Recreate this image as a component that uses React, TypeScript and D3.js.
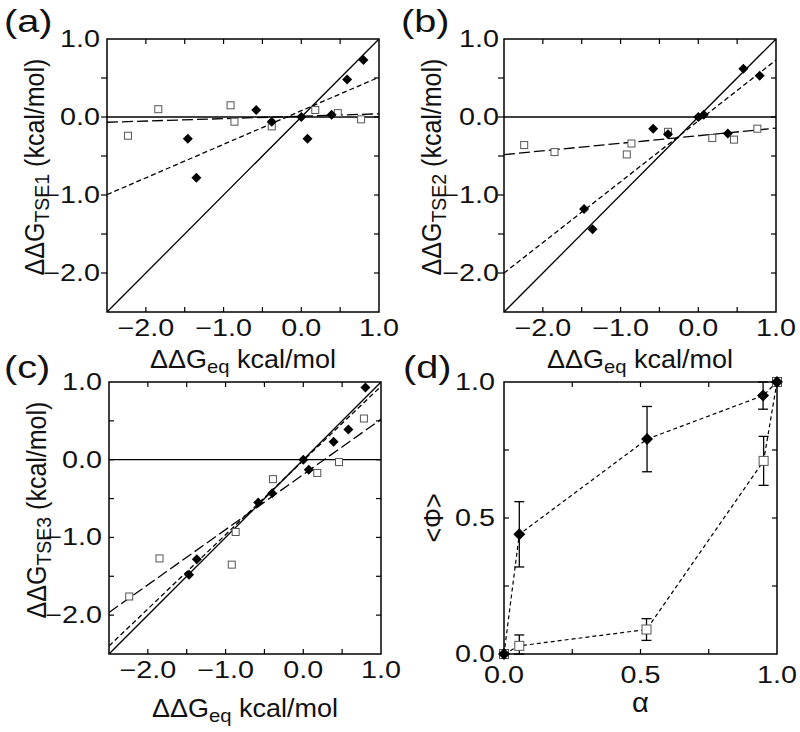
import React from 'react';
import * as d3 from 'd3';

// ---------- data ----------
const ddgDomain: [number, number] = [-2.5, 1.0];
const ddgLabelTicks = [-2.0, -1.0, 0.0, 1.0];
const ddgAllTicks = [-2.0, -1.5, -1.0, -0.5, 0.0, 0.5];

const alphaLabelTicks = [0.0, 0.5, 1.0];
const alphaAllTicks = [0.25, 0.5, 0.75];
const phiLabelTicks = [0.0, 0.5, 1.0];
const phiAllTicks = [0.25, 0.5, 0.75];

// Panel (a): TSE1
const aFilled: [number, number][] = [
  [-1.46, -0.28], [-1.35, -0.78], [-0.58, 0.09], [-0.38, -0.06], [0.0, 0.0],
  [0.08, -0.28], [0.39, 0.03], [0.59, 0.48], [0.80, 0.73],
];
const aOpen: [number, number][] = [
  [-2.23, -0.24], [-1.84, 0.10], [-0.91, 0.15], [-0.86, -0.06], [-0.38, -0.12],
  [0.18, 0.09], [0.47, 0.05], [0.77, -0.03],
];
// fits: [slope, intercept]
const aFitFilled: [number, number] = [0.43, 0.08];
const aFitOpen: [number, number] = [0.031, 0.01];

// Panel (b): TSE2
const bFilled: [number, number][] = [
  [-1.47, -1.18], [-1.36, -1.44], [-0.58, -0.15], [-0.39, -0.22], [0.0, 0.0],
  [0.07, 0.03], [0.38, -0.21], [0.58, 0.62], [0.79, 0.53],
];
const bOpen: [number, number][] = [
  [-2.24, -0.36], [-1.85, -0.45], [-0.92, -0.48], [-0.86, -0.34], [-0.39, -0.19],
  [0.18, -0.27], [0.46, -0.29], [0.76, -0.15],
];
const bFitFilled: [number, number] = [0.78, -0.05];
const bFitOpen: [number, number] = [0.097, -0.24];

// Panel (c): TSE3
const cFilled: [number, number][] = [
  [-1.47, -1.48], [-1.37, -1.28], [-0.58, -0.55], [-0.40, -0.43], [0.0, 0.0],
  [0.07, -0.13], [0.39, 0.23], [0.58, 0.39], [0.80, 0.93],
];
const cOpen: [number, number][] = [
  [-2.24, -1.76], [-1.85, -1.27], [-0.92, -1.35], [-0.87, -0.93], [-0.39, -0.25],
  [0.18, -0.17], [0.46, -0.03], [0.78, 0.53],
];
const cFitFilled: [number, number] = [0.955, -0.01];
const cFitOpen: [number, number] = [0.71, -0.19];

// Panel (d): <phi> vs alpha  [alpha, phi, error]
const dFilled: [number, number, number][] = [
  [0.0, 0.0, 0], [0.056, 0.44, 0.12], [0.524, 0.79, 0.12], [0.949, 0.95, 0.05], [1.0, 1.0, 0],
];
const dOpen: [number, number, number][] = [
  [0.0, 0.0, 0], [0.056, 0.03, 0.04], [0.522, 0.09, 0.04], [0.951, 0.71, 0.09], [1.0, 1.0, 0],
];

// ---------- styling ----------
const FONT = "'Liberation Sans', Arial, Helvetica, sans-serif";
const TICK_FS = 23;
const TICK_SX = 1.25;
const LABEL_FS = 25;
const LABEL_SX = 1.08;
const PANEL_FS = 31;
const PANEL_SX = 1.28;
const TICK_LEN = 5;
const INK = '#111';

type Rect = { x0: number; x1: number; y0: number; y1: number };

const fmt = d3.format('.1f');

function HText({ x, y, anchor, fs, sx, children }: any) {
  return (
    <text
      transform={`translate(${x},${y}) scale(${sx},1)`}
      textAnchor={anchor}
      fontSize={fs}
      fontFamily={FONT}
      fill={INK}
    >
      {children}
    </text>
  );
}

function Frame({ r, xs, ys, xTicks, yTicks, xLabels, yLabels, xLabelDy, yLabelDx, leftOut }: any) {
  const els: any[] = [];
  xTicks.forEach((t: number, i: number) => {
    const px = xs(t);
    els.push(<line key={'xb' + i} x1={px} x2={px} y1={r.y1} y2={r.y1 - TICK_LEN} stroke="#000" strokeWidth={1.2} />);
    els.push(<line key={'xt' + i} x1={px} x2={px} y1={r.y0} y2={r.y0 + TICK_LEN} stroke="#000" strokeWidth={1.2} />);
  });
  yTicks.forEach((t: number, i: number) => {
    const py = ys(t);
    const lx2 = leftOut ? r.x0 - TICK_LEN - 1 : r.x0 + TICK_LEN;
    els.push(<line key={'yl' + i} x1={r.x0} x2={lx2} y1={py} y2={py} stroke="#000" strokeWidth={1.2} />);
    els.push(<line key={'yr' + i} x1={r.x1} x2={r.x1 - TICK_LEN} y1={py} y2={py} stroke="#000" strokeWidth={1.2} />);
  });
  xLabels.forEach((t: number, i: number) => {
    els.push(
      <HText key={'xl' + i} x={xs(t)} y={r.y1 + xLabelDy} anchor="middle" fs={TICK_FS} sx={TICK_SX}>
        {fmt(t)}
      </HText>
    );
  });
  yLabels.forEach((t: number, i: number) => {
    els.push(
      <HText key={'yl2' + i} x={r.x0 - yLabelDx} y={ys(t) + 8} anchor="end" fs={TICK_FS} sx={TICK_SX}>
        {fmt(t)}
      </HText>
    );
  });
  return (
    <g>
      <rect x={r.x0} y={r.y0} width={r.x1 - r.x0} height={r.y1 - r.y0} fill="none" stroke="#000" strokeWidth={1.5} />
      {els}
    </g>
  );
}

const diamondPath = (r: number) => `M0,${-r}L${r},0L0,${r}L${-r},0Z`;

function DdgPanel({ id, r, filled, open, fitFilled, fitOpen, sub, label, labelPos, yLabelX, yLabelY, xLabelDy, tickLabelDx, leftOut }: any) {
  const xs = d3.scaleLinear().domain(ddgDomain).range([r.x0, r.x1]);
  const ys = d3.scaleLinear().domain(ddgDomain).range([r.y1, r.y0]);
  const fitLine = (f: [number, number]) =>
    d3.line<number>().x((d) => xs(d)).y((d) => ys(f[0] * d + f[1]))(ddgDomain) as string;
  const diag = d3.line<number>().x((d) => xs(d)).y((d) => ys(d))(ddgDomain) as string;
  const cx = (r.x0 + r.x1) / 2;
  return (
    <g>
      <defs>
        <clipPath id={'clip' + id}>
          <rect x={r.x0} y={r.y0} width={r.x1 - r.x0} height={r.y1 - r.y0} />
        </clipPath>
      </defs>
      <g clipPath={`url(#clip${id})`}>
        <line x1={xs(ddgDomain[0])} x2={xs(ddgDomain[1])} y1={ys(0)} y2={ys(0)} stroke="#000" strokeWidth={1.3} />
        <path d={diag} stroke="#000" strokeWidth={1.3} fill="none" />
        <path d={fitLine(fitFilled)} stroke="#000" strokeWidth={1.3} fill="none" strokeDasharray="5,3" />
        <path d={fitLine(fitOpen)} stroke="#000" strokeWidth={1.3} fill="none" strokeDasharray="11,4" />
      </g>
      {open.map((d: [number, number], i: number) => (
        <rect key={'o' + i} x={xs(d[0]) - 3.5} y={ys(d[1]) - 3.5} width={7} height={7} fill="#fff" stroke="#555" strokeWidth={1} />
      ))}
      {filled.map((d: [number, number], i: number) => (
        <path key={'f' + i} d={diamondPath(5)} transform={`translate(${xs(d[0])},${ys(d[1])})`} fill="#000" />
      ))}
      <Frame r={r} xs={xs} ys={ys} xTicks={ddgAllTicks} yTicks={ddgAllTicks} xLabels={ddgLabelTicks} yLabels={ddgLabelTicks} xLabelDy={24} yLabelDx={tickLabelDx} leftOut={leftOut} />
      {/* x label */}
      <g transform={`translate(${cx},${r.y1 + xLabelDy}) scale(${LABEL_SX},1)`}>
        <text textAnchor="middle" fontSize={LABEL_FS} fontFamily={FONT} fill={INK}>
          ΔΔG<tspan fontSize={LABEL_FS * 0.75} dy={5}>eq</tspan>
          <tspan dy={-5}> kcal/mol</tspan>
        </text>
      </g>
      {/* y label */}
      <g transform={`translate(${yLabelX},${yLabelY}) scale(${LABEL_SX},1) rotate(-90)`}>
        <text textAnchor="middle" fontSize={LABEL_FS} fontFamily={FONT} fill={INK}>
          ΔΔG<tspan fontSize={LABEL_FS * 0.78} dy={5}>{sub}</tspan>
          <tspan dy={-5}>{'  (kcal/mol)'}</tspan>
        </text>
      </g>
      <HText x={labelPos[0]} y={labelPos[1]} anchor="start" fs={PANEL_FS} sx={PANEL_SX}>
        {label}
      </HText>
    </g>
  );
}

function PhiPanel({ r }: { r: Rect }) {
  const xs = d3.scaleLinear().domain([0, 1]).range([r.x0, r.x1]);
  const ys = d3.scaleLinear().domain([0, 1]).range([r.y1, r.y0]);
  const ln = d3
    .line<[number, number, number]>()
    .x((d) => xs(d[0]))
    .y((d) => ys(d[1]));
  const errBars = (data: [number, number, number][], key: string) =>
    data
      .filter((d) => d[2] > 0)
      .map((d, i) => {
        const x = xs(d[0]);
        const yt = ys(Math.min(1, d[1] + d[2]));
        const yb = ys(Math.max(0, d[1] - d[2]));
        return (
          <g key={key + i} stroke="#000" strokeWidth={1.3}>
            <line x1={x} x2={x} y1={yt} y2={yb} />
            <line x1={x - 5} x2={x + 5} y1={yt} y2={yt} />
            <line x1={x - 5} x2={x + 5} y1={yb} y2={yb} />
          </g>
        );
      });
  return (
    <g>
      <path d={ln(dFilled) as string} fill="none" stroke="#000" strokeWidth={1.2} strokeDasharray="4,3" />
      <path d={ln(dOpen) as string} fill="none" stroke="#000" strokeWidth={1.2} strokeDasharray="4,3" />
      {errBars(dOpen, 'eo')}
      {errBars(dFilled, 'ef')}
      {dOpen.map((d, i) => (
        <rect key={'o' + i} x={xs(d[0]) - 4.5} y={ys(d[1]) - 4.5} width={9} height={9} fill="#fff" stroke="#555" strokeWidth={1} />
      ))}
      {dFilled.map((d, i) => (
        <path key={'f' + i} d={diamondPath(6)} transform={`translate(${xs(d[0])},${ys(d[1])})`} fill="#000" />
      ))}
      <Frame r={r} xs={xs} ys={ys} xTicks={alphaAllTicks} yTicks={phiAllTicks} xLabels={alphaLabelTicks} yLabels={phiLabelTicks} xLabelDy={29} yLabelDx={9} leftOut={false} />
      <HText x={(r.x0 + r.x1) / 2} y={712} anchor="middle" fs={LABEL_FS + 2} sx={LABEL_SX}>
        α
      </HText>
      <g transform={`translate(${443},${(r.y0 + r.y1) / 2}) scale(${LABEL_SX},1) rotate(-90)`}>
        <text textAnchor="middle" fontSize={LABEL_FS} fontFamily={FONT} fill={INK}>
          {'<Φ>'}
        </text>
      </g>
      <HText x={403} y={378} anchor="start" fs={PANEL_FS} sx={PANEL_SX}>
        (d)
      </HText>
    </g>
  );
}

export default function App() {
  const A: Rect = { x0: 107, x1: 379, y0: 39, y1: 312 };
  const B: Rect = { x0: 504, x1: 776, y0: 39, y1: 312 };
  const C: Rect = { x0: 109, x1: 381, y0: 382, y1: 654 };
  const D: Rect = { x0: 504, x1: 777, y0: 382, y1: 654 };
  return (
    <svg width={800} height={732} style={{ position: 'absolute', left: 0, top: 0, background: '#fff' }}>
      <rect width={800} height={732} fill="#fff" />
      <DdgPanel id="a" r={A} filled={aFilled} open={aOpen} fitFilled={aFitFilled} fitOpen={aFitOpen} sub="TSE1" label="(a)" labelPos={[4, 32]} yLabelX={44} yLabelY={167} xLabelDy={56} tickLabelDx={7} leftOut={true} />
      <DdgPanel id="b" r={B} filled={bFilled} open={bOpen} fitFilled={bFitFilled} fitOpen={bFitOpen} sub="TSE2" label="(b)" labelPos={[401, 32]} yLabelX={441} yLabelY={167} xLabelDy={56} tickLabelDx={5} leftOut={true} />
      <DdgPanel id="c" r={C} filled={cFilled} open={cOpen} fitFilled={cFitFilled} fitOpen={cFitOpen} sub="TSE3" label="(c)" labelPos={[4, 378]} yLabelX={46} yLabelY={510} xLabelDy={63} tickLabelDx={7} leftOut={false} />
      <PhiPanel r={D} />
    </svg>
  );
}
